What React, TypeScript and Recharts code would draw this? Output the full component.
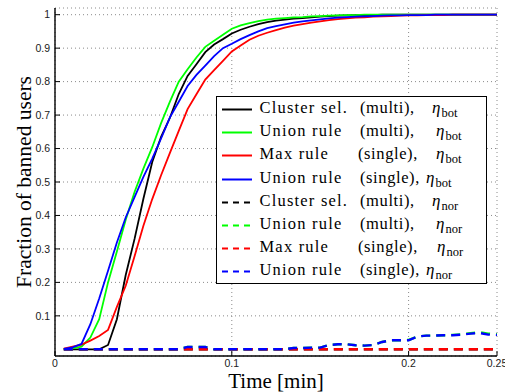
import React from "react";
import { LineChart, Line, XAxis, YAxis, CartesianGrid } from "recharts";

const SERIF = '"Liberation Serif", "Times New Roman", serif';
const SANS = '"Liberation Sans", Arial, sans-serif';

// time grid [min]
const TIME = [
  0.005, 0.01, 0.015, 0.02, 0.025, 0.03, 0.035, 0.04, 0.045, 0.05,
  0.055, 0.06, 0.065, 0.07, 0.075, 0.08, 0.085, 0.09, 0.095, 0.1,
  0.105, 0.11, 0.115, 0.12, 0.125, 0.13, 0.135, 0.14, 0.145, 0.15,
  0.155, 0.16, 0.165, 0.17, 0.175, 0.18, 0.185, 0.19, 0.195, 0.2,
  0.205, 0.21, 0.215, 0.22, 0.225, 0.23, 0.235, 0.24, 0.245, 0.25,
];

// eta_bot
const CLUSTER_MULTI_BOT = [
  0, 0, 0, 0, 0, 0.013, 0.09, 0.222, 0.33, 0.45,
  0.56, 0.635, 0.692, 0.763, 0.817, 0.852, 0.888, 0.911, 0.927, 0.944,
  0.955, 0.964, 0.972, 0.978, 0.982, 0.985, 0.988, 0.99, 0.992, 0.994,
  0.996, 0.997, 0.998, 0.999, 0.999, 0.999, 1, 1, 1, 1,
  1, 1, 1, 1, 1, 1, 1, 1, 1, 1,
];
const UNION_MULTI_BOT = [
  0, 0.003, 0.008, 0.035, 0.09, 0.2, 0.292, 0.387, 0.47, 0.54,
  0.604, 0.676, 0.74, 0.8, 0.837, 0.872, 0.904, 0.922, 0.94, 0.958,
  0.968, 0.975, 0.981, 0.985, 0.988, 0.99, 0.992, 0.993, 0.995, 0.996,
  0.997, 0.998, 0.999, 0.999, 1, 1, 1, 1, 1, 1,
  1, 1, 1, 1, 1, 1, 1, 1, 1, 1,
];
const MAX_SINGLE_BOT = [
  0.002, 0.008, 0.014, 0.026, 0.04, 0.058, 0.127, 0.19, 0.278, 0.369,
  0.449, 0.52, 0.587, 0.653, 0.718, 0.762, 0.806, 0.834, 0.862, 0.89,
  0.908, 0.925, 0.937, 0.946, 0.954, 0.961, 0.967, 0.972, 0.976, 0.98,
  0.984, 0.987, 0.989, 0.991, 0.992, 0.994, 0.995, 0.996, 0.997, 0.998,
  0.998, 0.999, 0.999, 0.999, 1, 1, 1, 1, 1, 1,
];
const UNION_SINGLE_BOT = [
  0.001, 0.006, 0.016, 0.075, 0.152, 0.235, 0.319, 0.394, 0.455, 0.515,
  0.57, 0.63, 0.693, 0.74, 0.787, 0.82, 0.848, 0.876, 0.9, 0.913,
  0.927, 0.939, 0.95, 0.96, 0.966, 0.971, 0.976, 0.98, 0.983, 0.986,
  0.989, 0.991, 0.993, 0.994, 0.995, 0.996, 0.997, 0.998, 0.998, 0.999,
  0.999, 0.999, 1, 1, 1, 1, 1, 1, 1, 1,
];

// eta_nor
const CLUSTER_MULTI_NOR = [
  0, 0, 0, 0, 0, 0, 0, 0, 0, 0,
  0, 0, 0, 0, 0, 0, 0, 0, 0, 0,
  0, 0, 0, 0, 0, 0, 0, 0, 0, 0,
  0, 0, 0, 0, 0, 0, 0, 0, 0, 0,
  0, 0, 0, 0, 0, 0, 0, 0, 0, 0,
];
const UNION_MULTI_NOR = [
  0, 0, 0, 0, 0, 0, 0, 0, 0, 0,
  0, 0, 0, 0, 0.007, 0.007, 0.007, 0, 0, 0,
  0, 0, 0, 0, 0, 0, 0.004, 0.004, 0.005, 0.005,
  0.013, 0.015, 0.015, 0.012, 0.011, 0.013, 0.022, 0.027, 0.027, 0.028,
  0.038, 0.041, 0.041, 0.042, 0.043, 0.045, 0.048, 0.051, 0.047, 0.045,
];
const MAX_SINGLE_NOR = [
  0, 0, 0, 0, 0, 0, 0, 0, 0, 0,
  0, 0, 0, 0, 0, 0, 0, 0, 0, 0,
  0, 0, 0, 0, 0, 0, 0, 0, 0, 0,
  0, 0, 0, 0, 0, 0, 0, 0, 0, 0,
  0, 0, 0, 0, 0, 0, 0, 0, 0, 0,
];
const UNION_SINGLE_NOR = [
  0, 0, 0, 0, 0, 0, 0, 0, 0, 0,
  0, 0, 0, 0, 0.007, 0.007, 0.007, 0, 0, 0,
  0, 0, 0, 0, 0, 0, 0.004, 0.004, 0.005, 0.005,
  0.013, 0.015, 0.015, 0.012, 0.011, 0.013, 0.022, 0.027, 0.027, 0.027,
  0.038, 0.041, 0.041, 0.042, 0.042, 0.044, 0.047, 0.049, 0.044, 0.043,
];

const X_TICKS = [0, 0.1, 0.2, 0.25];
const Y_TICKS = [0.1, 0.2, 0.3, 0.4, 0.5, 0.6, 0.7, 0.8, 0.9, 1];

const SERIES = [
  { key: "clusterMultiBot", values: CLUSTER_MULTI_BOT, name: "Cluster sel.", mode: "(multi),", eta: "bot", color: "#000000", dashed: false, modeX: 143, etaX: 215 },
  { key: "unionMultiBot", values: UNION_MULTI_BOT, name: "Union rule", mode: "(multi),", eta: "bot", color: "#00ff00", dashed: false, modeX: 143, etaX: 219 },
  { key: "maxSingleBot", values: MAX_SINGLE_BOT, name: "Max rule", mode: "(single),", eta: "bot", color: "#ff0000", dashed: false, modeX: 141, etaX: 219 },
  { key: "unionSingleBot", values: UNION_SINGLE_BOT, name: "Union rule", mode: "(single),", eta: "bot", color: "#0000ff", dashed: false, modeX: 143, etaX: 209 },
  { key: "clusterMultiNor", values: CLUSTER_MULTI_NOR, name: "Cluster sel.", mode: "(multi),", eta: "nor", color: "#000000", dashed: true, modeX: 143, etaX: 215 },
  { key: "unionMultiNor", values: UNION_MULTI_NOR, name: "Union rule", mode: "(multi),", eta: "nor", color: "#00ff00", dashed: true, modeX: 143, etaX: 219 },
  { key: "maxSingleNor", values: MAX_SINGLE_NOR, name: "Max rule", mode: "(single),", eta: "nor", color: "#ff0000", dashed: true, modeX: 141, etaX: 220 },
  { key: "unionSingleNor", values: UNION_SINGLE_NOR, name: "Union rule", mode: "(single),", eta: "nor", color: "#0000ff", dashed: true, modeX: 143, etaX: 209 },
];

const rows = TIME.map((t, i) => {
  const row: any = { t };
  SERIES.forEach((s) => {
    row[s.key] = s.values[i];
  });
  return row;
});

const textStyle: React.CSSProperties = {
  position: "absolute",
  top: -2,
  lineHeight: "23px",
  fontSize: 16.5,
  letterSpacing: 1.2,
  whiteSpace: "nowrap",
};

function ChartLegend() {
  return (
    <div
      style={{
        position: "absolute",
        left: 216,
        top: 96,
        width: 271,
        height: 188,
        boxSizing: "border-box",
        border: "1.3px solid #000",
        background: "#fff",
        fontFamily: SERIF,
        color: "#000",
      }}
    >
      {SERIES.map((s, i) => (
        <div key={s.key} style={{ position: "absolute", left: 0, top: 1.2 + i * 23.1, width: "100%", height: 23 }}>
          <svg width={32} height={23} style={{ position: "absolute", left: 4.5, top: 0 }}>
            <line
              x1={0}
              x2={30}
              y1={11.5}
              y2={11.5}
              stroke={s.color}
              strokeWidth={2}
              strokeDasharray={s.dashed ? "6 5" : undefined}
            />
          </svg>
          <span style={{ ...textStyle, left: 42.5 }}>{s.name}</span>
          <span style={{ ...textStyle, left: s.modeX, letterSpacing: 0.6 }}>{s.mode}</span>
          <span style={{ ...textStyle, left: s.etaX, letterSpacing: 0 }}>
            <span style={{ fontStyle: "italic", fontSize: 17 }}>η</span>
            <span style={{ fontSize: 12.5, position: "relative", top: 4, marginLeft: 1 }}>{s.eta}</span>
          </span>
        </div>
      ))}
    </div>
  );
}

// axis titles in the serif face, placed over the chart
function AxisTitles() {
  const base: React.CSSProperties = {
    position: "absolute",
    fontFamily: SERIF,
    color: "#000",
    whiteSpace: "nowrap",
    textAlign: "center",
  };
  return (
    <>
      <div style={{ ...base, left: 55, top: 370.5, width: 442, fontSize: 21, lineHeight: "21px" }}>Time [min]</div>
      <div
        style={{
          ...base,
          left: -126,
          top: 170,
          width: 300,
          height: 24,
          fontSize: 21.5,
          lineHeight: "24px",
          transform: "rotate(-90deg)",
        }}
      >
        Fraction of banned users
      </div>
    </>
  );
}

export default function App() {
  const axisLine = { stroke: "#000", strokeWidth: 1.4 };
  const tickLine = { stroke: "#000", strokeWidth: 1 };
  const tickText = { fill: "#1a1a1a", fontSize: 10.5, fontFamily: SANS };
  return (
    <div style={{ position: "absolute", left: 0, top: 0, width: 505, height: 392, background: "#fff", overflow: "hidden" }}>
      <LineChart width={505} height={392} data={rows} margin={{ top: 8, right: 8, bottom: 0, left: 0 }}>
        <CartesianGrid stroke="#8a8a8a" strokeDasharray="1 3" />
        <XAxis
          dataKey="t"
          type="number"
          domain={[0, 0.25]}
          ticks={X_TICKS}
          interval={0}
          height={36}
          tickSize={-5}
          tickMargin={9}
          axisLine={axisLine}
          tickLine={tickLine}
          tick={tickText}
          tickFormatter={(v: number) => String(v)}
        />
        <XAxis
          xAxisId="top"
          orientation="top"
          dataKey="t"
          type="number"
          domain={[0, 0.25]}
          ticks={X_TICKS}
          interval={0}
          height={0}
          tickSize={-5}
          axisLine={axisLine}
          tickLine={tickLine}
          tick={false}
        />
        <YAxis
          type="number"
          domain={[-0.02, 1.02]}
          ticks={Y_TICKS}
          interval={0}
          width={55}
          tickSize={-5}
          tickMargin={10}
          axisLine={axisLine}
          tickLine={tickLine}
          tick={tickText}
          tickFormatter={(v: number) => String(v)}
        />
        <YAxis
          yAxisId="right"
          orientation="right"
          type="number"
          domain={[-0.02, 1.02]}
          ticks={Y_TICKS}
          interval={0}
          width={0}
          tickSize={-5}
          axisLine={axisLine}
          tickLine={tickLine}
          tick={false}
        />
        {SERIES.map((s) => (
          <Line
            key={s.key}
            dataKey={s.key}
            type="linear"
            stroke={s.color}
            strokeWidth={s.dashed ? 2.4 : 1.8}
            strokeDasharray={s.dashed ? "9 6" : undefined}
            dot={false}
            activeDot={false}
            isAnimationActive={false}
          />
        ))}
      </LineChart>
      <AxisTitles />
      <ChartLegend />
    </div>
  );
}
